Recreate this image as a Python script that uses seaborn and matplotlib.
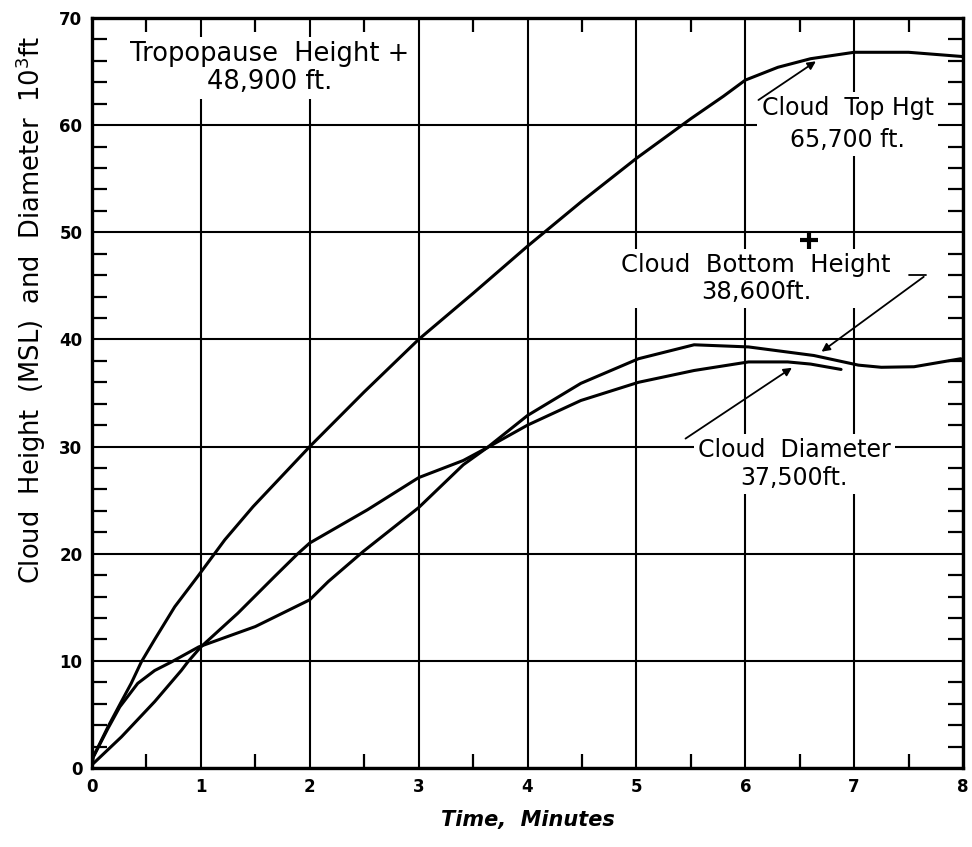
import numpy as np
import pandas as pd
import matplotlib
matplotlib.use("Agg")
import matplotlib.pyplot as plt
from matplotlib.ticker import MultipleLocator
import seaborn as sns

# ---- data ----
top_x = [0.0, 0.01, 0.147, 0.27, 0.36, 0.453, 0.576, 0.76, 0.98, 1.22, 1.48, 2.0, 2.5, 3.0, 3.5, 4.0, 4.5, 5.0, 5.5, 5.8, 6.0, 6.3, 6.6, 7.0, 7.5, 8.0]
top_y = [0.3, 1.0, 3.85, 6.2, 7.9, 9.9, 12.0, 15.05, 18.0, 21.3, 24.4, 30.0, 35.1, 40.0, 44.3, 48.7, 52.9, 56.9, 60.6, 62.7, 64.2, 65.4, 66.2, 66.8, 66.8, 66.4]

bottom_x = [0.0, 0.01, 0.147, 0.255, 0.42, 0.576, 0.73, 0.98, 1.5, 2.0, 2.17, 2.49, 3.0, 3.41, 3.63, 4.0, 4.49, 5.02, 5.53, 6.03, 6.63, 7.04, 7.25, 7.55, 7.98]
bottom_y = [0.3, 1.0, 3.7, 5.7, 7.9, 9.1, 9.9, 11.3, 13.2, 15.7, 17.4, 20.2, 24.3, 28.3, 29.9, 32.9, 35.9, 38.2, 39.5, 39.3, 38.5, 37.6, 37.4, 37.45, 38.2]

diam_x = [0.0, 0.27, 0.576, 0.82, 0.88, 1.0, 1.34, 1.68, 1.89, 2.0, 2.53, 3.0, 3.41, 3.63, 4.0, 4.49, 5.02, 5.53, 6.03, 6.39, 6.6, 6.88]
diam_y = [0.3, 2.9, 6.2, 9.1, 9.9, 11.3, 14.45, 17.9, 20.0, 21.0, 24.1, 27.1, 28.7, 29.9, 32.0, 34.3, 36.0, 37.1, 37.9, 37.9, 37.7, 37.2]

tropopause_x = [6.59]
tropopause_y = [49.3]

x_ticks = [0, 1, 2, 3, 4, 5, 6, 7, 8]
y_ticks = [0, 10, 20, 30, 40, 50, 60, 70]

series = {
    "Cloud Top Height": (top_x, top_y),
    "Cloud Bottom Height": (bottom_x, bottom_y),
    "Cloud Diameter": (diam_x, diam_y),
}
frames = []
for name, (xs, ys) in series.items():
    frames.append(pd.DataFrame({"time": xs, "value": ys, "series": name}))
df = pd.concat(frames, ignore_index=True)

sns.set_style("white")
plt.rcParams["font.family"] = ["DejaVu Sans"]
plt.rcParams["text.color"] = "black"
plt.rcParams["axes.labelcolor"] = "black"
plt.rcParams["xtick.color"] = "black"
plt.rcParams["ytick.color"] = "black"

fig = plt.figure(figsize=(9.72, 8.47), dpi=100)
ax = fig.add_axes([92 / 972, 79 / 847, 871 / 972, 750 / 847])

for name in series:
    sub = df[df["series"] == name]
    sns.lineplot(data=sub, x="time", y="value", ax=ax, color="black",
                 linewidth=2.2, sort=False, estimator=None, legend=False, zorder=4)

ax.set_xlim(0, 8)
ax.set_ylim(0, 70)
ax.set_xticks(x_ticks)
ax.set_yticks(y_ticks)
ax.set_xticklabels([str(v) for v in x_ticks], fontsize=12, fontweight="bold")
ax.set_yticklabels([str(v) for v in y_ticks], fontsize=12, fontweight="bold")
ax.xaxis.set_minor_locator(MultipleLocator(0.5))
ax.yaxis.set_minor_locator(MultipleLocator(2))
ax.tick_params(which="major", direction="in", length=0, pad=7)
ax.tick_params(axis="x", which="minor", direction="in", length=10, width=1.6,
               top=True, bottom=True)
ax.tick_params(axis="y", which="minor", direction="in", length=11, width=1.6,
               left=True, right=True)
ax.grid(True, which="major", color="black", linewidth=1.5)
for s in ax.spines.values():
    s.set_linewidth(2.4)
    s.set_color("black")
    s.set_zorder(5)

ax.set_xlabel("Time,  Minutes", fontsize=15, fontweight="bold", style="italic", labelpad=10)
ax.set_ylabel("Cloud  Height  (MSL)  and  Diameter  10$^3$ft", fontsize=18.5)
ax.yaxis.set_label_coords(-0.050, 0.61)

box = dict(facecolor="white", edgecolor="none", pad=3)
ax.text(1.63, 65.3, "Tropopause  Height +\n48,900 ft.", ha="center", va="center",
        fontsize=18.5, linespacing=1.1, bbox=box, zorder=3)
ax.text(6.94, 60.1, "Cloud  Top Hgt\n65,700 ft.", ha="center", va="center",
        fontsize=17, linespacing=1.4, bbox=box, zorder=3)
ax.text(6.1, 45.7, "Cloud  Bottom  Height\n38,600ft.", ha="center", va="center",
        fontsize=17.5, linespacing=1.15, bbox=box, zorder=3)
ax.text(6.45, 28.4, "Cloud  Diameter\n37,500ft.", ha="center", va="center",
        fontsize=17, linespacing=1.2, bbox=box, zorder=3)

ax.plot(tropopause_x, tropopause_y, marker="+", color="black", markersize=13,
        markeredgewidth=3, zorder=6, linestyle="none")

arrow = dict(arrowstyle="-|>", color="black", lw=1.3, mutation_scale=12)
ax.annotate("", xy=(6.67, 66.1), xytext=(6.1, 62.2), arrowprops=arrow, zorder=6)
ax.annotate("", xy=(6.68, 38.7), xytext=(7.66, 46.0), arrowprops=arrow, zorder=6)
ax.plot([7.5, 7.66], [46.0, 46.0], color="black", lw=1.3, zorder=6)
ax.annotate("", xy=(6.45, 37.5), xytext=(5.43, 30.6), arrowprops=arrow, zorder=6)

fig.savefig("out.png", dpi=100)
